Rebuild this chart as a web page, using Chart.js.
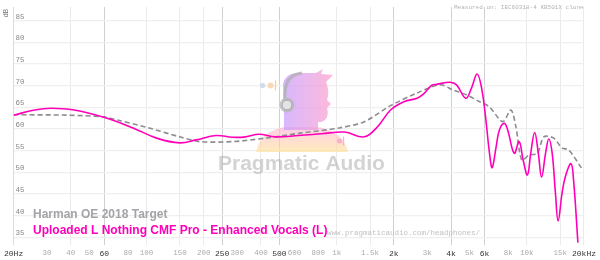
<!DOCTYPE html>
<html>
<head>
<meta charset="utf-8">
<script src="https://cdn.jsdelivr.net/npm/chart.js@4/dist/chart.umd.min.js"></script>
<style>
  html, body { margin: 0; padding: 0; background: #fff; }
  #wrap { width: 600px; height: 260px; position: relative; }
</style>
</head>
<body>
<div id="wrap"><canvas id="c" width="600" height="260"></canvas></div>
<script>
// ---- data ----
const targetName = "Harman OE 2018 Target";
const measName = "Uploaded L Nothing CMF Pro - Enhanced Vocals (L)";
const targetFreqs = [20, 38.5, 59.7, 70.1, 100.3, 149.5, 190, 283, 422, 629, 1015, 1398, 1922, 2648, 3500, 4107, 4817, 5650, 6369, 7472, 8256, 8766, 9417, 10277, 11370, 12300, 13870, 15336, 16600, 19480];
const targetDb = [63.3, 63.2, 62.8, 62.1, 60.4, 58.2, 57.1, 57.1, 57.9, 59.0, 60.2, 61.7, 65.4, 68.3, 70.2, 69.0, 67.9, 66.3, 65.1, 61.7, 64.4, 60.5, 52.8, 54.0, 54.4, 58.2, 57.9, 55.6, 55.2, 50.9];
const measFreqs = [20, 25.8, 31.5, 41.7, 59.7, 85.5, 113, 149.5, 182.6, 232, 283, 332, 390, 476, 629, 831, 1100, 1398, 1639, 1922, 2257, 2648, 2868, 3168, 3362, 3944, 4273, 4776, 5114, 5476, 5768, 6071, 6369, 6578, 6900, 7180, 7618, 7935, 8590, 9120, 9565, 10085, 10490, 11005, 11504, 11968, 12555, 13063, 13605, 14153, 14620, 15336, 15955, 17085, 17625, 18580];
const measDb = [63.2, 64.4, 64.8, 64.4, 62.7, 60.2, 57.9, 56.8, 57.5, 58.5, 58.1, 58.2, 58.8, 58.2, 58.5, 58.9, 59.3, 58.2, 60.5, 64.4, 66.3, 67.1, 68.1, 70.1, 70.3, 70.8, 70.2, 67.1, 69.4, 72.7, 69.8, 62.8, 54.4, 51.1, 55.9, 59.8, 61.3, 59.8, 54.4, 57.1, 52.9, 49.4, 54.4, 59.2, 54.4, 48.9, 54.4, 57.7, 54.4, 45.2, 38.8, 45.2, 49.0, 52.0, 48.2, 33.8];
const xTickValues = [20, 30, 40, 50, 60, 80, 100, 150, 200, 250, 300, 400, 500, 600, 800, 1000, 1500, 2000, 3000, 4000, 5000, 6000, 8000, 10000, 15000, 20000];
const xTickLabels = ["20Hz", "30", "40", "50", "60", "80", "100", "150", "200", "250", "300", "400", "500", "600", "800", "1k", "1.5k", "2k", "3k", "4k", "5k", "6k", "8k", "10k", "15k", "20kHz"];
const xMajor = [20, 60, 250, 500, 2000, 4000, 6000, 20000];
const xGridLight = [40, 100, 150, 200, 400, 1000, 1500, 10000, 15000, 20000];
const xGridDark = [60, 250, 500, 2000, 4000, 6000];
const yTickValues = [35, 40, 45, 50, 55, 60, 65, 70, 75, 80, 85];

const MAGENTA = 'rgb(255,0,185)';
const GRAYLINE = '#8c8c92';

const toPts = (fs, ds) => fs.map((f, i) => ({x: f, y: ds[i]}));

const decorPlugin = {
  id: 'decor',
  beforeDatasetsDraw(chart) {
    const c = chart.ctx;
    c.save();
    // watermark logo
    c.globalAlpha = 0.6;
    // shoulders
    let g = c.createLinearGradient(0, 128, 0, 152);
    g.addColorStop(0, '#ffb0d5');
    g.addColorStop(1, '#ffe08f');
    c.fillStyle = g;
    c.beginPath();
    c.moveTo(284, 127);
    c.lineTo(318, 127);
    c.quadraticCurveTo(344, 132, 348, 152);
    c.lineTo(256, 152);
    c.quadraticCurveTo(260, 132, 284, 127);
    c.closePath();
    c.fill();
    // head
    c.globalAlpha = 0.72;
    g = c.createLinearGradient(283, 0, 333, 0);
    g.addColorStop(0, '#c99cff');
    g.addColorStop(1, '#ff9fcb');
    c.fillStyle = g;
    c.beginPath();
    c.moveTo(283, 84);
    c.quadraticCurveTo(285, 74, 296, 73);
    c.lineTo(316, 73);
    c.lineTo(323, 69);
    c.lineTo(321, 74);
    c.lineTo(333, 75);
    c.lineTo(326, 82);
    c.quadraticCurveTo(330, 92, 327, 100);
    c.lineTo(331, 104);
    c.lineTo(327, 108);
    c.quadraticCurveTo(330, 119, 321, 122);
    c.lineTo(318, 122);
    c.lineTo(318, 130);
    c.lineTo(284, 130);
    c.lineTo(284, 110);
    c.closePath();
    c.fill();
    c.globalAlpha = 0.8;
    // headphone band
    c.strokeStyle = '#b0b0b0';
    c.lineWidth = 3;
    c.beginPath();
    c.moveTo(285, 100);
    c.quadraticCurveTo(283, 75, 302, 73);
    c.stroke();
    // ear cup
    c.fillStyle = '#b8b8b8';
    c.beginPath(); c.arc(287, 105, 7.5, 0, Math.PI * 2); c.fill();
    c.fillStyle = '#eeeeee';
    c.strokeStyle = '#a0a0a0';
    c.lineWidth = 1;
    c.beginPath(); c.arc(287, 105, 4.8, 0, Math.PI * 2); c.fill(); c.stroke();
    // dots
    c.fillStyle = '#cdd3e8';
    c.beginPath(); c.arc(262.5, 85.5, 2.7, 0, Math.PI * 2); c.fill();
    c.fillStyle = '#f5d2a6';
    c.beginPath(); c.arc(270.5, 85.5, 3, 0, Math.PI * 2); c.fill();
    c.strokeStyle = '#f5c98a'; c.lineWidth = 1.3;
    c.beginPath(); c.moveTo(275.5, 80.5); c.lineTo(275.5, 90.5); c.stroke();
    c.fillStyle = '#ff9fd2';
    c.beginPath(); c.arc(339.5, 141, 2.5, 0, Math.PI * 2); c.fill();
    c.strokeStyle = '#ff9fd2';
    c.beginPath(); c.moveTo(343.5, 136.5); c.lineTo(343.5, 145.5); c.stroke();
    // watermark text
    c.globalAlpha = 1;
    c.fillStyle = 'rgba(175,175,175,0.55)';
    c.font = 'bold 21px "Liberation Sans", Arial, sans-serif';
    c.textAlign = 'left';
    c.textBaseline = 'alphabetic';
    c.fillText('Pragmatic Audio', 218, 170);
    c.restore();
  },
  afterDraw(chart) {
    const c = chart.ctx;
    c.save();
    c.textAlign = 'left';
    c.textBaseline = 'alphabetic';
    c.font = 'bold 12px "Liberation Sans", Arial, sans-serif';
    c.fillStyle = '#a3a3a8';
    c.fillText(targetName, 33, 217.5);
    c.fillStyle = MAGENTA;
    c.fillText(measName, 33, 233.5);
    c.font = '7.5px "Liberation Mono", monospace';
    c.fillStyle = '#c2c2c2';
    c.fillText('www.pragmaticaudio.com/headphones/', 327, 235);
    c.font = '6px "Liberation Mono", monospace';
    c.fillStyle = '#b3b3b3';
    c.fillText('Measured on: IEC60318-4 KB501X clone', 454, 9);
    // dB axis title
    c.translate(8, 13);
    c.rotate(-Math.PI / 2);
    c.font = '7px "Liberation Sans", Arial, sans-serif';
    c.fillStyle = '#777';
    c.textAlign = 'center';
    c.fillText('dB', 0, 0);
    c.restore();
  }
};

new Chart(document.getElementById('c'), {
  type: 'line',
  data: {
    datasets: [
      {
        label: targetName,
        data: toPts(targetFreqs, targetDb),
        borderColor: GRAYLINE,
        borderWidth: 1.6,
        borderDash: [5, 3],
        pointRadius: 0,
        tension: 0.3,
        fill: false,
        order: 2
      },
      {
        label: measName,
        data: toPts(measFreqs, measDb),
        borderColor: MAGENTA,
        borderWidth: 1.6,
        pointRadius: 0,
        tension: 0.4,
        fill: false,
        order: 1
      }
    ]
  },
  options: {
    responsive: false,
    animation: false,
    devicePixelRatio: 1,
    layout: { padding: { left: 12, right: 11, top: 7, bottom: 0 } },
    plugins: { legend: { display: false }, tooltip: { enabled: false } },
    scales: {
      x: {
        type: 'logarithmic',
        min: 20,
        max: 20000,
        afterBuildTicks(scale) { scale.ticks = xTickValues.map(v => ({value: v})); },
        afterFit(scale) { scale.height = 15; },
        border: { display: false },
        grid: {
          drawTicks: false,
          lineWidth: 1,
          color(ctx) {
            const v = ctx.tick && ctx.tick.value;
            if (xGridDark.includes(v)) return '#d0d0d0';
            if (xGridLight.includes(v)) return '#ebebeb';
            return 'rgba(0,0,0,0)';
          }
        },
        ticks: {
          autoSkip: false,
          maxRotation: 0,
          minRotation: 0,
          padding: 4,
          callback(value) {
            const i = xTickValues.indexOf(value);
            return i >= 0 ? xTickLabels[i] : '';
          },
          font(ctx) {
            const v = ctx.tick && ctx.tick.value;
            return { family: '"Liberation Mono", monospace', size: xMajor.includes(v) ? 8 : 7.5, weight: 'normal' };
          },
          color(ctx) {
            const v = ctx.tick && ctx.tick.value;
            return xMajor.includes(v) ? '#333' : '#aaa';
          }
        }
      },
      y: {
        type: 'linear',
        position: 'left',
        min: 33.24,
        max: 88.16,
        afterBuildTicks(scale) { scale.ticks = yTickValues.map(v => ({value: v})); },
        afterFit(scale) { scale.width = 0; },
        border: { display: true, color: '#dcdcdc' },
        grid: { color: '#efefef', lineWidth: 1.2, drawTicks: false },
        ticks: {
          mirror: true,
          padding: 2,
          labelOffset: -4,
          font: { family: '"Liberation Mono", monospace', size: 7.5 },
          color: '#888'
        }
      }
    }
  },
  plugins: [decorPlugin]
});
</script>
</body>
</html>
